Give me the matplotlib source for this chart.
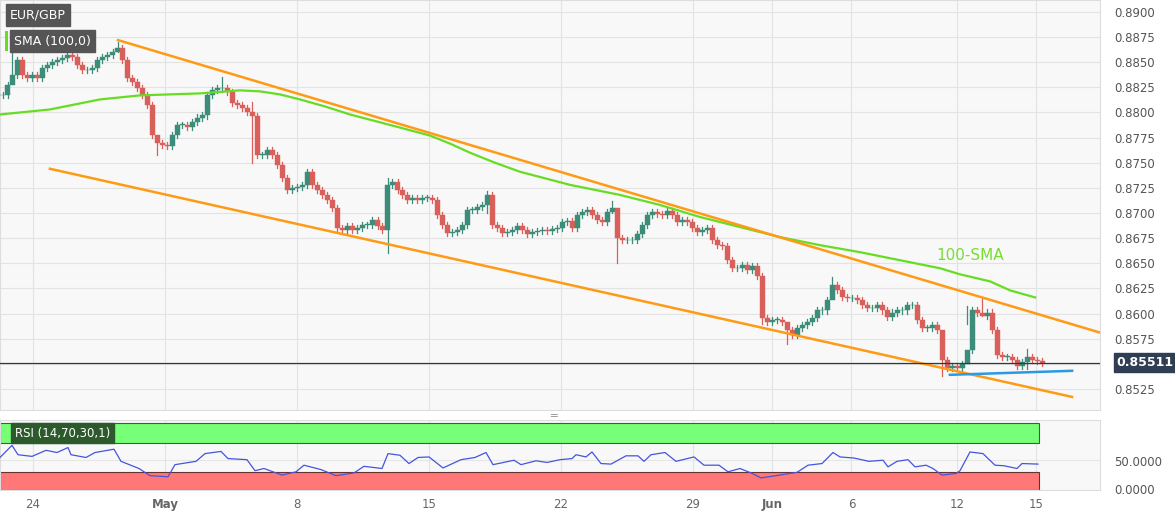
import numpy as np
import matplotlib
matplotlib.use("Agg")
import matplotlib.pyplot as plt
from matplotlib.patches import Rectangle

# ---- data ----
first_close = 0.8817
closes = [0.8817,0.8827,0.8837,0.8852,0.8837,0.8834,0.8837,0.8834,0.8844,0.8847,
          0.8850,0.8852,0.8854,0.8857,0.8855,0.8847,0.8842,0.8842,0.8844,0.8852,
          0.8855,0.8857,0.8860,0.8864,0.8852,0.8834,0.8830,0.8824,0.8817,0.8807,
          0.8778,0.8770,0.8768,0.8767,0.8778,0.8788,0.8788,0.8786,0.8791,0.8795,
          0.8797,0.8817,0.8822,0.8824,0.8824,0.8820,0.8809,0.8807,0.8804,0.8800,
          0.8796,0.8758,0.8758,0.8763,0.8758,0.8748,0.8735,0.8723,0.8725,0.8726,
          0.8728,0.8741,0.8728,0.8723,0.8718,0.8713,0.8705,0.8685,0.8683,0.8687,
          0.8683,0.8685,0.8688,0.8688,0.8693,0.8687,0.8683,0.8728,0.8731,0.8723,
          0.8718,0.8713,0.8715,0.8713,0.8715,0.8715,0.8713,0.8698,0.8688,0.8680,
          0.8681,0.8683,0.8688,0.8703,0.8703,0.8706,0.8708,0.8718,0.8688,0.8685,
          0.8680,0.8681,0.8683,0.8687,0.8683,0.8679,0.8681,0.8682,0.8683,0.8682,
          0.8684,0.8685,0.8691,0.8692,0.8685,0.8698,0.8701,0.8703,0.8698,0.8693,
          0.8691,0.8701,0.8705,0.8675,0.8673,0.8673,0.8673,0.8679,0.8688,0.8698,
          0.8701,0.8699,0.8698,0.8702,0.8698,0.8691,0.8693,0.8691,0.8685,0.8681,
          0.8683,0.8685,0.8673,0.8668,0.8667,0.8653,0.8645,0.8645,0.8648,0.8643,
          0.8647,0.8637,0.8596,0.8592,0.8594,0.8594,0.8592,0.8584,0.8579,0.8586,
          0.8589,0.8592,0.8596,0.8603,0.8603,0.8613,0.8628,0.8623,0.8616,0.8615,
          0.8615,0.8613,0.8608,0.8605,0.8605,0.8608,0.8603,0.8597,0.8601,0.8603,
          0.8603,0.8608,0.8608,0.8594,0.8586,0.8586,0.8589,0.8584,0.8554,0.8546,
          0.8548,0.8546,0.8550,0.8564,0.8603,0.8601,0.8598,0.8601,0.8584,0.8559,
          0.8557,0.8557,0.8554,0.8548,0.8552,0.8557,0.8554,0.8553,0.8551]
# notable wick extremes: candle index -> (high, low)
extremes = {2: (0.8860, 0.8834), 23: (0.8870, 0.8860), 31: (0.8775, 0.8758),
            44: (0.8835, 0.8820), 50: (0.8810, 0.8750), 77: (0.8735, 0.8660),
            97: (0.8722, 0.8700), 122: (0.8712, 0.8700), 123: (0.8700, 0.8650),
            152: (0.8640, 0.8590), 157: (0.8590, 0.8570), 166: (0.8636, 0.8620),
            188: (0.8560, 0.8538), 193: (0.8607, 0.8590), 196: (0.8614, 0.8598),
            205: (0.8565, 0.8545)}

sma_days = [-1.25, 0.64, 2.54, 4.05, 6.33, 7.84, 8.60, 9.35, 10.11, 11.06, 12.01,
            13.90, 15.04, 15.80, 16.55, 17.50, 18.45, 20.34, 22.23, 23.75, 25.27,
            26.78, 28.30, 29.81, 31.33, 32.84, 34.36, 35.11, 36.25, 37.01, 37.96]
sma_vals = [0.8798, 0.8803, 0.8813, 0.8817, 0.8819, 0.8822, 0.8821, 0.8818, 0.8813,
            0.8806, 0.8798, 0.8785, 0.8777, 0.8769, 0.8760, 0.8750, 0.8741, 0.8728,
            0.8718, 0.8708, 0.8696, 0.8686, 0.8676, 0.8668, 0.8661, 0.8653, 0.8645,
            0.8639, 0.8632, 0.8623, 0.8616]

upper_line = ([3.22, 40.42], [0.8872, 0.8581])
lower_line = ([0.64, 39.36], [0.8744, 0.8517])
support_line = ([34.73, 39.36], [0.8539, 0.8543])
last_price = 0.85511

rsi_px = [0, 12, 18, 32, 46, 57, 68, 71, 86, 95, 114, 121, 139, 150, 168, 175, 196,
          205, 221, 228, 247, 255, 264, 282, 296, 304, 321, 336, 354, 364, 382, 388,
          400, 409, 418, 429, 443, 461, 475, 486, 493, 514, 521, 536, 547, 560,
          572, 576, 586, 592, 601, 611, 626, 638, 644, 651, 665, 676, 694, 704, 719,
          728, 740, 751, 761, 776, 786, 797, 808, 822, 833, 840, 854, 869, 883, 888,
          897, 908, 915, 926, 933, 942, 956, 960, 970, 983, 995, 1004, 1017, 1022, 1038]
rsi_vals = [57, 79, 62, 59, 70, 66, 75, 62, 57, 66, 72, 50, 37, 24, 22, 44, 50, 64,
            68, 55, 53, 33, 37, 25, 31, 43, 35, 24, 29, 41, 37, 64, 61, 46, 57, 58,
            38, 53, 57, 66, 44, 52, 44, 51, 48, 53, 55, 62, 58, 67, 46, 45, 60, 60,
            50, 62, 66, 50, 58, 43, 43, 31, 37, 29, 20, 24, 27, 30, 43, 46, 66, 58,
            56, 50, 52, 40, 50, 53, 40, 43, 37, 25, 28, 33, 67, 64, 43, 42, 37, 46, 45]

tick_days = [0, 5, 10, 15, 20, 25, 28, 31, 35, 38]
tick_labels = ["24", "May", "8", "15", "22", "29", "Jun", "6", "12", "15"]
bold_ticks = ["May", "Jun"]
price_ticks = [0.8525, 0.8550, 0.8575, 0.8600, 0.8625, 0.8650, 0.8675, 0.8700,
               0.8725, 0.8750, 0.8775, 0.8800, 0.8825, 0.8850, 0.8875, 0.8900]

# ---- layout ----
W, H = 1175, 512
fig = plt.figure(figsize=(W/100, H/100), dpi=100)
fig.patch.set_facecolor("white")
PX = 26.4  # pixels per trading day
d0 = -1.25
x_lo, x_hi = d0, d0 + 1100/PX

ax = fig.add_axes([0, 1-410/H, 1100/W, 410/H])
ax2 = fig.add_axes([0, 1-490/H, 1100/W, 70/H])
for a in (ax, ax2):
    a.set_facecolor("#f8f8f8")
    a.set_xlim(x_lo, x_hi)
    for s in a.spines.values():
        s.set_color("#dddddd")
    a.yaxis.tick_right()
    a.tick_params(axis="y", length=0, labelsize=8.5, labelcolor="#555555", pad=10)
    a.set_xticks(tick_days)
    a.grid(True, color="#e3e3e3", linewidth=0.8)
    a.set_axisbelow(True)

ax.set_ylim(0.85040, 0.89119)
ax.set_yticks(price_ticks)
ax.set_yticklabels(["" if abs(p - 0.8550) < 1e-6 else f"{p:.4f}" for p in price_ticks])
ax.tick_params(axis="x", length=0, labelbottom=False)

# candles
step = 5/PX
bw = 4.2/PX
opens = [first_close] + closes[:-1]
for i, (o, c) in enumerate(zip(opens, closes)):
    x = d0 + 0.5*step + i*step
    hi, lo = extremes.get(i, (max(o, c) + 0.0003, min(o, c) - 0.0003))
    col = "#3b8c78" if c >= o else "#d9605a"
    ax.plot([x, x], [lo, hi], color=col, lw=0.9, zorder=3)
    ax.add_patch(Rectangle((x-bw/2, min(o, c)), bw, max(abs(c-o), 0.00006),
                           facecolor=col, edgecolor=col, lw=0.3, zorder=4))

ax.plot(sma_days, sma_vals, color="#66dd22", lw=1.6, zorder=5)
ax.plot(*upper_line, color="#ff9a14", lw=1.8, zorder=6)
ax.plot(*lower_line, color="#ff9a14", lw=1.8, zorder=6)
ax.plot(*support_line, color="#2b9ae0", lw=1.8, zorder=6)
ax.axhline(last_price, color="#2a3a4a", lw=0.9, zorder=6)
ax.text(34.2, 0.8653, "100-SMA", color="#77dd33", fontsize=11, zorder=7)

# price label
ax.annotate(f"{last_price:.5f}", xy=(1.0, last_price), xycoords=("axes fraction", "data"),
            xytext=(12, 0), textcoords="offset points", va="center", ha="left",
            fontsize=9, fontweight="bold", color="white",
            bbox=dict(boxstyle="square,pad=0.25", fc="#2f3e52", ec="#2f3e52"),
            annotation_clip=False)

# top-left boxes
fig.text(10/W, 1-15/H, "EUR/GBP", fontsize=9, color="white", va="center",
         bbox=dict(boxstyle="square,pad=0.35", fc="#555555", ec="#555555"))
fig.text(14/W, 1-41/H, "SMA (100,0)", fontsize=9, color="white", va="center",
         bbox=dict(boxstyle="square,pad=0.35", fc="#555555", ec="#555555"))
fig.patches.append(Rectangle((5/W, 1-51/H), 2.5/W, 20/H, transform=fig.transFigure,
                             fc="#66dd22", ec="none"))

# RSI panel
ax2.set_ylim(-2, 125)
ax2.set_yticks([0, 50])
ax2.set_yticklabels(["0.0000", "50.0000"])
ax2.grid(False, axis="y")
ax2.axhspan(83, 120, xmin=0, xmax=(38.1 - x_lo)/(x_hi - x_lo), fc="#77ff77", ec="#336633", lw=0.8)
ax2.axhspan(-2, 30, xmin=0, xmax=(38.1 - x_lo)/(x_hi - x_lo), fc="#ff7777", ec="#663333", lw=0.8)
ax2.axhline(53, color="#e6e6e6", lw=0.8, zorder=0)
rsi_days = [d0 + p/PX for p in rsi_px]
ax2.plot(rsi_days, rsi_vals, color="#4455dd", lw=0.9, zorder=5)
ax2.set_xticklabels(tick_labels)
ax2.tick_params(axis="x", length=0, labelsize=8.5, labelcolor="#666666", pad=6)
for lbl in ax2.get_xticklabels():
    if lbl.get_text() in bold_ticks:
        lbl.set_fontweight("bold")
fig.text(15/W, 1-433/H, "RSI (14,70,30,1)", fontsize=8.5, color="white", va="center",
         bbox=dict(boxstyle="square,pad=0.3", fc="#2d5a2d", ec="#2d5a2d"))
fig.text(553/W, 1-415/H, "═", fontsize=8, color="#999999", ha="center", va="center")

fig.savefig("out.png", dpi=100)
